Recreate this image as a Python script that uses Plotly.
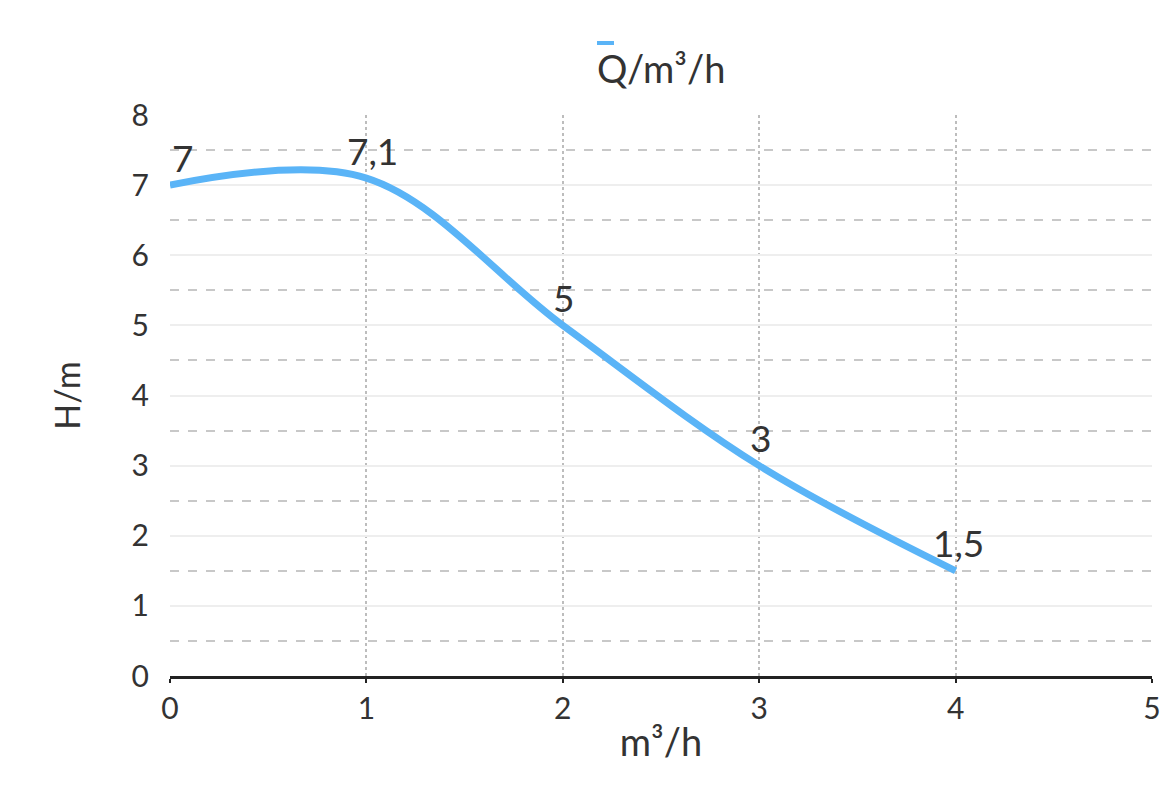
import plotly.graph_objects as go

flow = [0, 1, 2, 3, 4]
head = [7, 7.1, 5, 3, 1.5]
point_labels = ["7", "7,1", "5", "3", "1,5"]
x_ticks = [0, 1, 2, 3, 4, 5]
y_ticks = [0, 1, 2, 3, 4, 5, 6, 7, 8]
series_name = "Q/m³/h"

FONT = "Lato, Noto Sans, sans-serif"
TXT = "#333333"
BLUE = "#5ab4f7"
label_xshift = [12, 6, 1, 1, 3]

fig = go.Figure()
fig.add_trace(go.Scatter(
    x=flow, y=head, mode="lines", name=series_name,
    line=dict(color=BLUE, width=7, shape="spline", smoothing=1.0),
    showlegend=False,
))

# the page body adds an 8px offset; compensate so the plot lands where the reference has it
OFF = 8
W, H = 1169, 790
ml, mt = 170 - OFF, 115 - OFF
pw, ph = 1152 - 170, 676 - 115
mr, mb = W - ml - pw, H - mt - ph

def px(xp):
    return (xp - OFF - ml) / pw

def py(yp):
    return (H - mb - (yp - OFF)) / ph

annotations = [
    dict(x=xv, y=yv, text=t, xref="x", yref="y", showarrow=False,
         xanchor="center", yanchor="middle", yshift=28, xshift=xs,
         font=dict(family=FONT, size=37, color=TXT))
    for xv, yv, t, xs in zip(flow, head, point_labels, label_xshift)
]
annotations.append(
    dict(text=series_name, xref="paper", yref="paper",
         x=px(661), y=py(68), xanchor="center", yanchor="middle",
         showarrow=False, font=dict(family=FONT, size=38, color=TXT))
)

fig.update_layout(
    width=W, height=H,
    margin=dict(l=ml, r=mr, t=mt, b=mb),
    paper_bgcolor="white",
    plot_bgcolor="white",
    font=dict(family=FONT, color=TXT),
    xaxis=dict(
        range=[0, 5], tickvals=x_ticks, showgrid=True,
        gridcolor="#bdbdbd", griddash="dot", gridwidth=1.5,
        zeroline=False, showline=True, linecolor="#222", linewidth=2.5,
        ticks="outside", ticklen=4, tickwidth=2, tickcolor="#222",
        tickfont=dict(family=FONT, size=30, color=TXT),
        title=dict(text="m³/h", font=dict(family=FONT, size=38, color=TXT), standoff=6),
    ),
    yaxis=dict(
        range=[0, 8], tickvals=y_ticks, showgrid=True,
        gridcolor="#eeeeee", gridwidth=2,
        zeroline=False, showline=False,
        ticks="", ticklabelstandoff=20,
        tickfont=dict(family=FONT, size=30, color=TXT),
        title=dict(text="H/m", font=dict(family=FONT, size=34, color=TXT), standoff=40),
        minor=dict(tickvals=[0.5, 1.5, 2.5, 3.5, 4.5, 5.5, 6.5, 7.5], showgrid=True,
                   gridcolor="#c8c8c8", griddash="dash", gridwidth=1.5),
    ),
    shapes=[
        dict(type="line", xref="paper", yref="paper",
             x0=px(597), x1=px(614), y0=py(43), y1=py(43),
             line=dict(color=BLUE, width=4)),
    ],
    annotations=annotations,
)

fig.write_html("out.html")
